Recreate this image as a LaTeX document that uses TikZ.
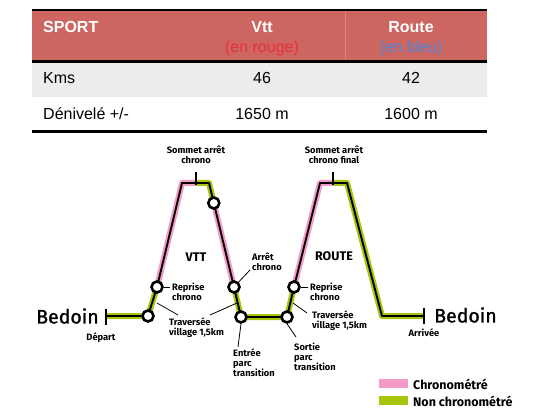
\documentclass[tikz,border=0pt]{standalone}
\usepackage{fontspec}
\setmainfont{Liberation Sans}
\newfontfamily\lblfont{Fira Sans}
\newfontfamily\townfont[FakeBold=1.3]{Fira Sans}
\definecolor{hdr}{HTML}{CD6660}
\definecolor{rowgrey}{HTML}{ECECEC}
\definecolor{enrouge}{HTML}{E8323A}
\definecolor{enbleu}{HTML}{4F86DA}
\definecolor{chrono}{HTML}{F49AC6}
\definecolor{nochrono}{HTML}{A8C50C}
\begin{document}
\begin{tikzpicture}[x=1pt,y=-1pt,
  thead/.style={font=\fontsize{16}{19}\selectfont\bfseries, text=white, inner sep=0, anchor=base},
  tcell/.style={font=\fontsize{16}{19}\selectfont, inner sep=0, anchor=base},
  tsub/.style={font=\fontsize{16}{19}\selectfont, inner sep=0, anchor=base},
  lbl/.style={font=\lblfont\bfseries\fontsize{9.3}{10}\selectfont, inner sep=0, align=left},
  big/.style={font=\lblfont\bfseries\fontsize{12.5}{14}\selectfont, inner sep=0},
  town/.style={font=\townfont\fontsize{19.5}{22}\selectfont, inner sep=0},
  legtext/.style={font=\lblfont\bfseries\fontsize{12.5}{14}\selectfont, inner sep=0, anchor=west},
  pinkseg/.style={draw=chrono, line width=6, line join=round},
  greenseg/.style={draw=nochrono, line width=6, line join=round},
  blackline/.style={draw=black, line width=1.9, line join=round},
  stop/.style={circle, draw=black, fill=white, line width=2.6, minimum size=11, inner sep=0},
  leader/.style={draw=black, line width=0.8},
  tick/.style={draw=black, line width=1.9}
]
\useasboundingbox (0,0) rectangle (540,419);
% ---------- table ----------
\fill[hdr] (32,10) rectangle (487,61);
\fill[rowgrey] (32,61) rectangle (487,97);
\draw[hdr!80!white, line width=0.6] (345,11) -- (345,60);
\draw[line width=2.5] (32,10) -- (487,10);
\draw[line width=2.5] (32,61.5) -- (487,61.5);
\draw[line width=3] (32,131.5) -- (487,131.5);
\node[thead, anchor=base west] (hsport) at (43,33) {SPORT};
\node[thead] (hvtt) at (262,33) {Vtt};
\node[thead] (hroute) at (411,33) {Route};
\node[tsub, text=enrouge] (hrouge) at (262,53) {(en rouge)};
\node[tsub, text=enbleu] (hbleu) at (411,53) {(en bleu)};
\node[tcell, anchor=base west] (kms) at (43,84) {Kms};
\node[tcell] (kmsv) at (262,84) {46};
\node[tcell] (kmsr) at (411,84) {42};
\node[tcell, anchor=base west] (den) at (43,120) {Dénivelé +/-};
\node[tcell] (denv) at (262,120) {1650 m};
\node[tcell] (denr) at (411,120) {1600 m};
% ---------- profile points ----------
\coordinate (p0) at (106,316);
\coordinate (c1p) at (148,316);
\coordinate (c2p) at (157,287);
\coordinate (tl1) at (182,183);
\coordinate (t1) at (196,183);
\coordinate (tr1) at (209,183);
\coordinate (c3p) at (213.8,203);
\coordinate (c4p) at (234,287);
\coordinate (c5p) at (241,317);
\coordinate (c6p) at (287,317);
\coordinate (c7p) at (294,287);
\coordinate (tl2) at (320,183);
\coordinate (t2) at (333,183);
\coordinate (tr2) at (347,183);
\coordinate (b2) at (382,316);
\coordinate (pe) at (424,316);
% coloured bands
\draw[greenseg] (p0) -- (c1p) -- (c2p);
\draw[pinkseg] (c2p) -- (tl1) -- (t1);
\draw[greenseg] (t1) -- (tr1) -- (c3p);
\draw[pinkseg] (c3p) -- (c4p);
\draw[greenseg] (c4p) -- (c5p) -- (c6p) -- (c7p);
\draw[pinkseg] (c7p) -- (tl2) -- (t2);
\draw[greenseg] (t2) -- (tr2) -- (b2) -- (pe);
% black line
\draw[blackline] (p0) -- (c1p) -- (c2p) -- (tl1) -- (tr1) -- (c3p) -- (c4p) -- (c5p) -- (c6p) -- (c7p) -- (tl2) -- (tr2) -- (b2) -- (pe);
% ticks
\draw[tick] (106,308.5) -- (106,325);
\draw[tick] (424,308) -- (424,323.5);
\draw[tick] (196,172) -- (196,185);
\draw[tick] (333,172) -- (333,185);
% stops
\node[stop] (c1) at (c1p) {};
\node[stop] (c2) at (c2p) {};
\node[stop] (c3) at (c3p) {};
\node[stop] (c4) at (c4p) {};
\node[stop] (c5) at (c5p) {};
\node[stop] (c6) at (c6p) {};
\node[stop] (c7) at (c7p) {};
% ---------- labels ----------
\node[lbl, align=center] (somm1) at (196,154.5) {Sommet arrêt\\chrono};
\node[lbl, align=center] (somm2) at (334,154.5) {Sommet arrêt\\chrono final};
\node[big] (vtt) at (196,257) {VTT};
\node[big] (route) at (334,256) {ROUTE};
\node[lbl, anchor=west] (arret) at (252,262) {Arrêt\\chrono};
\node[lbl, anchor=west] (rep1) at (172,291.5) {Reprise\\chrono};
\node[lbl, anchor=west] (rep2) at (310,291.5) {Reprise\\chrono};
\node[lbl, anchor=west] (trav1) at (169,328) {Traversée\\village 1,5km};
\node[lbl, anchor=west] (trav2) at (312,321) {Traversée\\village 1,5km};
\node[lbl, anchor=west] (entree) at (233,363) {Entrée\\parc\\transition};
\node[lbl, anchor=west] (sortie) at (294,357) {Sortie\\parc\\transition};
\node[lbl] (depart) at (101,338) {Départ};
\node[lbl] (arrivee) at (424,333) {Arrivée};
\node[town] (bedoinL) at (67.5,316) {Bedoin};
\node[town] (bedoinR) at (465.5,315) {Bedoin};
% leaders
\coordinate (arretend) at (250,270);
\coordinate (t1a) at (157,303);
\coordinate (t1b) at (178,315);
\coordinate (t1c) at (237,303);
\coordinate (t1d) at (210,315);
\coordinate (t2a) at (293,303);
\coordinate (t2b) at (307,313);
\coordinate (entend) at (238,347);
\coordinate (sortend) at (296,337);
\draw[leader] (c4) -- (arretend);
\draw[leader] (c2.east) -- (170,287);
\draw[leader] (c7.east) -- (308,287);
\draw[leader] (t1a) -- (t1b);
\draw[leader] (t1c) -- (t1d);
\draw[leader] (t2a) -- (t2b);
\draw[leader] (c5.south) -- (entend);
\draw[leader] (c6.south) -- (sortend);
% ---------- legend ----------
\fill[chrono] (379,379) rectangle (408,388);
\fill[nochrono] (379,396) rectangle (408,405);
\node[legtext] (legc) at (413,384) {Chronométré};
\node[legtext] (legn) at (413,401) {Non chronométré};
\end{tikzpicture}
\end{document}
